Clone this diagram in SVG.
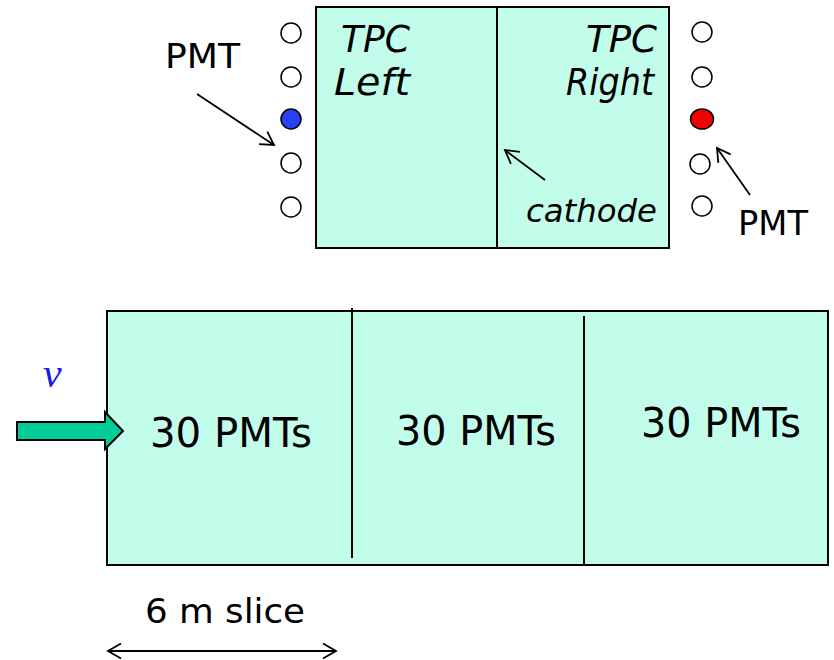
<svg xmlns="http://www.w3.org/2000/svg" width="834" height="660" viewBox="0 0 834 660">
<defs>
<style>
.box{fill:#C2FDEB;stroke:#000;stroke-width:2}
.div{stroke:#000;stroke-width:2;fill:none}
.pmt{fill:#fff;stroke:#000;stroke-width:1.5}
.ln{stroke:#000;stroke-width:1.8;fill:none}
.t{font-family:"DejaVu Sans","Liberation Sans",sans-serif;fill:#000}
.it{font-family:"DejaVu Sans","Liberation Sans",sans-serif;font-style:italic;fill:#000}
</style>
<marker id="open" markerWidth="18" markerHeight="18" refX="14" refY="9" orient="auto-start-reverse" markerUnits="userSpaceOnUse">
<path d="M1,1.5 L14,9 L1,16.5" fill="none" stroke="#000" stroke-width="1.8"/>
</marker>
</defs>
<g id="tpc">
<rect class="box" x="316" y="7" width="353" height="241"/>
<line class="div" x1="497" y1="7" x2="497" y2="248"/>
<text class="it" x="341" y="52" font-size="38" textLength="69" lengthAdjust="spacingAndGlyphs">TPC</text>
<text class="it" x="334" y="95" font-size="38" textLength="76" lengthAdjust="spacingAndGlyphs">Left</text>
<text class="it" x="586" y="52" font-size="38" textLength="71" lengthAdjust="spacingAndGlyphs">TPC</text>
<text class="it" x="566" y="95" font-size="38" textLength="88" lengthAdjust="spacingAndGlyphs">Right</text>
<text class="it" x="526" y="222" font-size="32" textLength="131" lengthAdjust="spacingAndGlyphs">cathode</text>
</g>
<g id="pmts-left">
<circle class="pmt" cx="291" cy="33" r="10"/>
<circle class="pmt" cx="291" cy="77" r="10"/>
<circle cx="291" cy="119" r="10" fill="#2B3FF5" stroke="#000" stroke-width="1.5"/>
<circle class="pmt" cx="291" cy="163" r="10"/>
<circle class="pmt" cx="291" cy="207" r="10"/>
<text class="t" x="165" y="68" font-size="33" textLength="75" lengthAdjust="spacingAndGlyphs">PMT</text>
</g>
<g id="pmts-right">
<circle class="pmt" cx="702" cy="32" r="10"/>
<circle class="pmt" cx="702" cy="77" r="10"/>
<ellipse cx="702" cy="119" rx="11.5" ry="10" fill="#F50000" stroke="#000" stroke-width="1.5"/>
<circle class="pmt" cx="700" cy="164" r="10"/>
<circle class="pmt" cx="702" cy="206" r="10"/>
<text class="t" x="738" y="235" font-size="33" textLength="70" lengthAdjust="spacingAndGlyphs">PMT</text>
</g>
<g id="detector">
<rect class="box" x="107" y="311" width="721" height="254"/>
<line class="div" x1="352" y1="308" x2="352" y2="558"/>
<line class="div" x1="584" y1="316" x2="584" y2="565"/>
<text class="t" x="150" y="447" font-size="41" textLength="162" lengthAdjust="spacingAndGlyphs">30 PMTs</text>
<text class="t" x="396" y="445" font-size="41" textLength="160" lengthAdjust="spacingAndGlyphs">30 PMTs</text>
<text class="t" x="641" y="437" font-size="41" textLength="160" lengthAdjust="spacingAndGlyphs">30 PMTs</text>
</g>
<g id="beam">
<text x="43" y="387" font-family="Liberation Serif,serif" font-style="italic" font-size="42" fill="#1A1AF0">ν</text>
<path d="M17,422 L105,422 L105,412 L123,431 L105,449 L105,440 L17,440 Z" fill="#00CC99" stroke="#000" stroke-width="2"/>
</g>
<g id="scale">
<text class="t" x="145" y="623" font-size="34" textLength="160" lengthAdjust="spacingAndGlyphs">6 m slice</text>
</g>
<g id="connectors">
<line class="ln" x1="197" y1="94" x2="274" y2="145" marker-end="url(#open)"/>
<line class="ln" x1="545" y1="180" x2="505" y2="150" marker-end="url(#open)"/>
<line class="ln" x1="750" y1="195" x2="717" y2="148" marker-end="url(#open)"/>
<line class="ln" x1="108" y1="651" x2="336" y2="651" marker-start="url(#open)" marker-end="url(#open)"/>
</g>
</svg>
